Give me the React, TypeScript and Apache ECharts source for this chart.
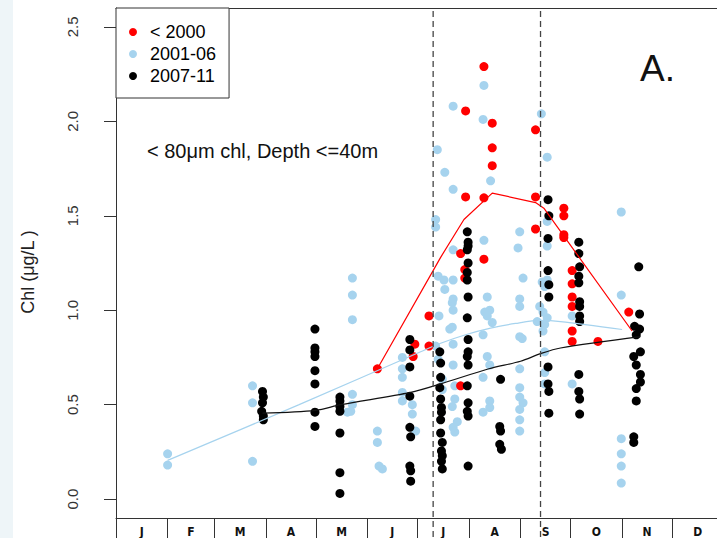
import React, { useEffect, useRef } from "react";
import * as echarts from "echarts";

// ---- axis / category data ----
const monthLabels = ["J", "F", "M", "A", "M", "J", "J", "A", "S", "O", "N", "D"];
const monthStarts = [0, 31, 59, 90, 120, 151, 181, 212, 243, 273, 304, 334, 365];
const monthMids = monthStarts.slice(0, 12).map((s, i) => (s + monthStarts[i + 1]) / 2);
const yTicks = [0, 0.5, 1, 1.5, 2, 2.5];
const periodBreaks = [190.5, 255];

// ---- observations: [day of year, chl µg/L] ----
const pre2000: [number, number][] = [
  [157, 0.69], [179.5, 0.82], [178.5, 0.755], [188, 0.97], [188, 0.81],
  [210, 2.055], [210, 1.6], [221, 1.595], [221, 2.29], [226, 1.99], [226, 1.86], [226, 1.765],
  [207, 1.3], [221, 1.27], [209.5, 1.215], [209.5, 1.17], [207, 0.6],
  [252, 1.955], [252, 1.6], [252, 1.43],
  [269, 1.54], [269, 1.5], [269, 1.4], [269, 1.385],
  [274, 1.21], [274, 1.14], [274, 1.07], [274, 1.02], [274, 0.89], [274, 0.835],
  [289.5, 0.835], [308, 0.99],
];

const y2001to06: [number, number][] = [
  [31, 0.24], [31, 0.18],
  [82, 0.6], [82, 0.51], [82, 0.2],
  [142, 1.17], [142, 1.08], [142, 0.95], [142, 0.555], [142, 0.5], [141, 0.465], [139, 0.46],
  [157, 0.36], [157, 0.3], [158, 0.175], [160, 0.16],
  [172, 0.75], [172, 0.69], [172, 0.645], [172, 0.565], [172, 0.52],
  [178, 0.5], [178, 0.45], [180, 0.36],
  [193, 1.85], [197.5, 1.73], [202.5, 1.64], [202.5, 2.08], [192, 1.48], [192, 1.44],
  [193.5, 1.18], [197, 1.16], [202.5, 1.16], [197.5, 1.11], [202.5, 1.32],
  [202, 1.04], [202.5, 1.06], [202.5, 1.0], [200.5, 0.9], [194, 0.97], [202, 0.91],
  [192, 0.81], [202.5, 0.82], [193.5, 0.74], [202.5, 0.71], [196, 0.635], [196, 0.58],
  [203.5, 0.6], [203.5, 0.53], [202, 0.49], [205, 0.41], [203.5, 0.355], [202.5, 0.38],
  [221, 2.19], [220.5, 2.01], [225, 1.685], [221, 1.37], [223, 1.07], [224.5, 1.0], [223, 0.97],
  [226, 0.935], [220.5, 0.87], [223, 0.755], [224.5, 0.71], [220.5, 0.645], [224.5, 0.52],
  [224.5, 0.485], [220.5, 0.46], [221.5, 0.99],
  [242.5, 1.415], [241.5, 1.33], [244.5, 1.17], [242.5, 1.06], [242.5, 1.02], [242.5, 0.86], [244, 0.85],
  [242.5, 0.69], [242.5, 0.59], [242.5, 0.54], [244.5, 0.51], [242.5, 0.475], [242.5, 0.42], [242.5, 0.36],
  [255.5, 2.04], [259, 1.81], [259, 1.47], [259, 1.34], [256, 1.15], [259, 1.16], [257.5, 1.125],
  [254.5, 1.02], [256.5, 0.99], [259, 0.96], [253, 0.94], [257.5, 0.925], [256.5, 0.89],
  [257.5, 0.78], [257.5, 0.67], [257.5, 0.61],
  [274, 0.97], [274, 0.61],
  [303.5, 1.52], [303.5, 1.08], [303.5, 0.32], [303.5, 0.24], [303.5, 0.175], [303.5, 0.085],
];

const y2007to11: [number, number][] = [
  [88, 0.57], [88.5, 0.54], [88, 0.51], [87.5, 0.465], [88.5, 0.44], [88.5, 0.42],
  [119.5, 0.9], [119.5, 0.8], [119.5, 0.78], [119.5, 0.755], [119.5, 0.68], [119.5, 0.61], [119.5, 0.46], [119.5, 0.385],
  [134.5, 0.54], [134.5, 0.52], [134.5, 0.49], [134.5, 0.465], [134.5, 0.35], [134.5, 0.14], [134.5, 0.03],
  [176.5, 0.845], [176.5, 0.79], [176.5, 0.7], [176.5, 0.545], [176.5, 0.38], [177, 0.33], [176.5, 0.175], [177, 0.15], [177, 0.095],
  [194.5, 0.78], [195, 0.72], [195, 0.645], [194.5, 0.59], [195, 0.53], [195.5, 0.485], [195.5, 0.46], [195, 0.42],
  [195, 0.35], [196, 0.3], [195.5, 0.255], [196, 0.23], [195.5, 0.2], [196, 0.16],
  [211, 1.415], [211.5, 1.36], [211.5, 1.34], [211, 1.32], [211.5, 1.25], [211, 1.2], [211, 1.16], [211.5, 1.07],
  [211, 0.96], [211.5, 0.845], [211.5, 0.78], [211, 0.755], [211.5, 0.71], [211, 0.6], [211.5, 0.51], [211, 0.465],
  [211.5, 0.44], [211.5, 0.175],
  [231, 0.634], [230.5, 0.385], [231, 0.36], [230.5, 0.29], [231.5, 0.264],
  [259.5, 1.585], [260, 1.5], [259.5, 1.38], [259.5, 1.21], [260, 1.135], [260, 1.07], [259.5, 0.7], [259.5, 0.61],
  [260, 0.57], [260, 0.455],
  [278, 1.36], [278, 1.3], [278.5, 1.23], [278, 1.18], [278, 1.145], [278.5, 1.045], [278.5, 1.02], [278.5, 0.97],
  [278.5, 0.94], [278, 0.66], [278, 0.57], [278.5, 0.53], [278.5, 0.45],
  [314, 1.23], [314.5, 0.98], [311.5, 0.915], [314.5, 0.9], [312.5, 0.87], [315, 0.78], [311, 0.755], [312.5, 0.71],
  [315, 0.66], [315, 0.62], [312.5, 0.585], [312.5, 0.52], [311, 0.33], [311, 0.3],
];

// ---- fitted seasonal curves ----
const fitPre2000: [number, number][] = [
  [157, 0.69], [195, 1.28], [209, 1.48], [226, 1.62], [252, 1.57], [257, 1.54], [310, 0.89],
];
const fit2001to06: [number, number][] = [
  [31, 0.205], [110, 0.5], [183, 0.78], [195, 0.825], [210, 0.87], [225, 0.905], [240, 0.93],
  [255, 0.946], [267, 0.94], [304, 0.898],
];
const fit2007to11: [number, number][] = [
  [88, 0.455], [120, 0.47], [135, 0.5], [177, 0.565], [195, 0.61], [224, 0.69], [243, 0.73],
  [255, 0.77], [267, 0.8], [315, 0.86],
];

const RED = "#ff0000";
const BLUE = "#a6d3ee";
const BLACK = "#000000";
const FONT = "'Liberation Sans', Arial, Helvetica, sans-serif";

export default function App() {
  const ref = useRef<HTMLDivElement>(null);

  useEffect(() => {
    if (!ref.current) return;
    const chart = echarts.init(ref.current, undefined, { renderer: "svg" });

    const scatter = (name: string, data: [number, number][], color: string) => ({
      name,
      type: "scatter",
      data,
      symbol: "circle",
      symbolSize: 9,
      itemStyle: { color, opacity: 1 },
      silent: true,
      z: 2,
    });
    const fit = (name: string, data: [number, number][], color: string, smooth: number) => ({
      name,
      type: "line",
      data,
      smooth,
      showSymbol: false,
      symbol: "none",
      lineStyle: { color, width: 1.2 },
      silent: true,
      z: 4,
    });

    const option: any = {
      animation: false,
      backgroundColor: "#ffffff",
      textStyle: { fontFamily: FONT },
      grid: { left: 116, right: 0, top: 8, bottom: 19, containLabel: false },
      xAxis: [
        {
          type: "value",
          min: 0,
          max: 361,
          position: "bottom",
          axisLine: { show: true, onZero: false, lineStyle: { color: "#333", width: 1 } },
          axisTick: {
            show: true,
            customValues: monthStarts,
            length: 22,
            lineStyle: { color: "#333", width: 1 },
          },
          axisLabel: {
            show: true,
            customValues: monthMids,
            formatter: (v: number) => {
              const i = monthMids.findIndex((m) => Math.abs(m - v) < 0.01);
              return i >= 0 ? monthLabels[i] : "";
            },
            margin: 8,
            fontSize: 12,
            fontWeight: "bold",
            fontFamily: "'Liberation Sans Narrow', 'DejaVu Sans Condensed', Arial, sans-serif",
            color: "#111",
          },
          splitLine: { show: false },
        },
        {
          type: "value",
          min: 0,
          max: 361,
          position: "top",
          axisLine: { show: true, onZero: false, lineStyle: { color: "#333", width: 1 } },
          axisTick: { show: false },
          axisLabel: { show: false },
          splitLine: { show: false },
        },
      ],
      yAxis: {
        type: "value",
        min: -0.1,
        max: 2.6,
        axisLine: { show: true, onZero: false, lineStyle: { color: "#333", width: 1 } },
        axisTick: { show: true, customValues: yTicks, length: 12, lineStyle: { color: "#333" } },
        axisLabel: {
          customValues: yTicks,
          rotate: 90,
          margin: 36,
          fontSize: 15,
          color: "#333",
          fontFamily: FONT,
          formatter: (v: number) => v.toFixed(1),
        },
        splitLine: { show: false },
      },
      legend: {
        data: [
          { name: "< 2000", icon: "circle" },
          { name: "2001-06", icon: "circle" },
          { name: "2007-11", icon: "circle" },
        ],
        orient: "vertical",
        left: 116,
        top: 8,
        itemWidth: 8,
        itemHeight: 8,
        itemGap: 4,
        padding: [15, 13, 13, 13],
        borderColor: "#333",
        borderWidth: 1,
        borderRadius: 0,
        backgroundColor: "#ffffff",
        selectedMode: false,
        textStyle: { fontSize: 18, color: "#000", fontFamily: FONT, padding: [0, 0, 0, 8] },
        z: 10,
      },
      graphic: [
        {
          type: "rect",
          left: 0,
          top: 0,
          shape: { width: 13, height: 538 },
          style: { fill: "#eef5f8" },
          z: -10,
          silent: true,
        },
        {
          type: "text",
          x: 28,
          y: 272,
          rotation: Math.PI / 2,
          style: {
            text: "Chl (μg/L )",
            fontSize: 18,
            fontFamily: FONT,
            fill: "#222",
            textAlign: "center",
            textVerticalAlign: "middle",
          },
        },
        {
          type: "text",
          x: 147,
          y: 151,
          style: {
            text: "< 80μm chl, Depth <=40m",
            fontSize: 20,
            fontFamily: FONT,
            fill: "#111",
            textAlign: "left",
            textVerticalAlign: "middle",
          },
        },
        {
          type: "text",
          x: 640,
          y: 68,
          style: {
            text: "A.",
            fontSize: 37,
            fontFamily: FONT,
            fill: "#111",
            textAlign: "left",
            textVerticalAlign: "middle",
          },
        },
      ],
      series: [
        scatter("2001-06", y2001to06, BLUE),
        scatter("< 2000", pre2000, RED),
        scatter("2007-11", y2007to11, BLACK),
        fit("fit < 2000", fitPre2000, RED, 0),
        fit("fit 2001-06", fit2001to06, BLUE, 0.3),
        fit("fit 2007-11", fit2007to11, "#111", 0.3),
        ...periodBreaks.map((d, i) => ({
          name: "break " + i,
          type: "line",
          data: [
            [d, -0.2],
            [d, 2.6],
          ],
          showSymbol: false,
          symbol: "none",
          clip: false,
          silent: true,
          lineStyle: { color: "#444", width: 1.3, type: [6, 4] },
          z: 5,
        })),
      ],
    };

    chart.setOption(option);
    return () => chart.dispose();
  }, []);

  return (
    <div
      ref={ref}
      style={{ position: "absolute", left: 0, top: 0, width: 717, height: 538 }}
    />
  );
}
